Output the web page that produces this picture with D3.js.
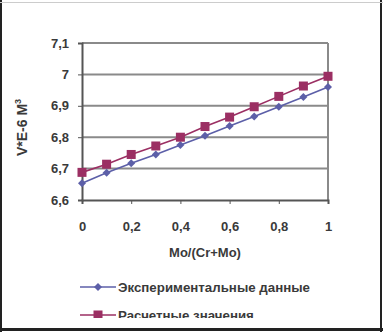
<!DOCTYPE html>
<html>
<head>
<meta charset="utf-8">
<script src="https://cdn.jsdelivr.net/npm/d3@7"></script>
<style>
  body { margin: 0; background: #fff; }
  svg text { font-family: "Liberation Sans", Arial, sans-serif; font-weight: bold; }
</style>
</head>
<body>
<div id="chart"></div>
<script>
// DATA
const xValues = [0, 0.1, 0.2, 0.3, 0.4, 0.5, 0.6, 0.7, 0.8, 0.9, 1];
const experimental = [6.653, 6.687, 6.717, 6.745, 6.775, 6.805, 6.836, 6.866, 6.897, 6.928, 6.96];
const calculated = [6.688, 6.714, 6.745, 6.772, 6.8, 6.834, 6.864, 6.897, 6.93, 6.963, 6.994];
const seriesNames = ["Экспериментальные данные", "Расчетные значения"];
const xTicks = [0, 0.2, 0.4, 0.6, 0.8, 1];
const yTicks = [6.6, 6.7, 6.8, 6.9, 7, 7.1];

const width = 383, height = 332;
const margin = { top: 43, right: 55, bottom: 132, left: 82 };
const innerW = width - margin.left - margin.right,
  innerH = height - margin.top - margin.bottom;
const textColor = "#3a3a3a";

const fmt = (d) => String(d).replace(".", ",");

const svg = d3.select("#chart").append("svg")
  .attr("width", width).attr("height", height);

svg.append("rect").attr("x", 0).attr("y", 0).attr("width", width).attr("height", height).attr("fill", "#fff");

const x = d3.scaleLinear().domain([0, 1]).range([0, innerW]);
const y = d3.scaleLinear().domain([6.6, 7.1]).range([innerH, 0]);

const g = svg.append("g").attr("transform", `translate(${margin.left},${margin.top})`);

// gridlines
g.selectAll(".grid").data(yTicks.slice(1)).join("line")
  .attr("x1", 0).attr("x2", innerW)
  .attr("y1", (d) => y(d)).attr("y2", (d) => y(d))
  .attr("stroke", "#8a8a8a").attr("stroke-width", 2);

// right border
g.append("line").attr("x1", innerW).attr("x2", innerW).attr("y1", 0).attr("y2", innerH)
  .attr("stroke", "#8a8a8a").attr("stroke-width", 2);

// axes
const yAxis = g.append("g")
  .call(d3.axisLeft(y).tickValues(yTicks).tickFormat(fmt).tickSize(4).tickPadding(9));
const xAxis = g.append("g").attr("transform", `translate(0,${innerH})`)
  .call(d3.axisBottom(x).tickValues(xTicks).tickFormat(fmt).tickSize(4).tickPadding(18));

[xAxis, yAxis].forEach((a) => {
  a.select(".domain").attr("stroke", "#555").attr("stroke-width", 2);
  a.selectAll(".tick line").attr("stroke", "#555");
  a.selectAll("text").attr("fill", textColor).style("font-size", "13px")
    .style("font-family", "'Liberation Sans', Arial, sans-serif").style("font-weight", "bold");
});

// series
const series = [
  { name: seriesNames[0], values: experimental, color: "#5c5fa8", marker: "diamond" },
  { name: seriesNames[1], values: calculated, color: "#9b2f63", marker: "square" },
];

const line = d3.line().x((d, i) => x(xValues[i])).y((d) => y(d));

function drawMarker(sel, s) {
  if (s.marker === "square") {
    sel.append("rect").attr("x", -4.5).attr("y", -4.5).attr("width", 9).attr("height", 9)
      .attr("fill", s.color);
  } else {
    sel.append("path").attr("d", "M0,-4L4,0L0,4L-4,0Z").attr("fill", s.color);
  }
}

series.forEach((s) => {
  g.append("path").datum(s.values).attr("d", line)
    .attr("fill", "none").attr("stroke", s.color).attr("stroke-width", 1.6);
  g.selectAll(null).data(s.values).join("g")
    .attr("transform", (d, i) => `translate(${x(xValues[i])},${y(d)})`)
    .each(function () { drawMarker(d3.select(this), s); });
});

// axis titles
svg.append("text").attr("x", margin.left + innerW / 2).attr("y", 257)
  .attr("text-anchor", "middle").attr("fill", textColor).style("font-size", "13px")
  .text("Mo/(Cr+Mo)");

svg.append("text").attr("transform", `translate(27,${margin.top + innerH / 2 + 6}) rotate(-90)`)
  .attr("text-anchor", "middle").attr("fill", textColor).style("font-size", "14px")
  .html('V*E-6 М<tspan dy="-6" style="font-size:9px">3</tspan>');

// legend (bottom line is cut off by the frame, as in the source image)
svg.append("clipPath").attr("id", "legclip").append("rect")
  .attr("x", 0).attr("y", 0).attr("width", width).attr("height", 318);

const leg = svg.append("g").attr("clip-path", "url(#legclip)");
series.forEach((s, i) => {
  const ly = 287 + i * 28;
  const lg = leg.append("g").attr("transform", `translate(80,${ly})`);
  lg.append("line").attr("x1", 0).attr("x2", 36).attr("y1", 0).attr("y2", 0)
    .attr("stroke", s.color).attr("stroke-width", 1.6);
  drawMarker(lg.append("g").attr("transform", "translate(18,0)"), s);
  lg.append("text").attr("x", 38).attr("y", 5).attr("fill", textColor)
    .style("font-size", "13.3px").text(s.name);
});

// outer frame
svg.append("line").attr("x1", 1).attr("x2", 1).attr("y1", 0).attr("y2", height).attr("stroke", "#222").attr("stroke-width", 2);
svg.append("line").attr("x1", 381).attr("x2", 381).attr("y1", 0).attr("y2", height).attr("stroke", "#222").attr("stroke-width", 2);
svg.append("line").attr("x1", 0).attr("x2", width).attr("y1", 329.5).attr("y2", 329.5).attr("stroke", "#222").attr("stroke-width", 3);
svg.append("line").attr("x1", 0).attr("x2", width).attr("y1", 2.5).attr("y2", 2.5).attr("stroke", "#ccc").attr("stroke-width", 1);
</script>
</body>
</html>
